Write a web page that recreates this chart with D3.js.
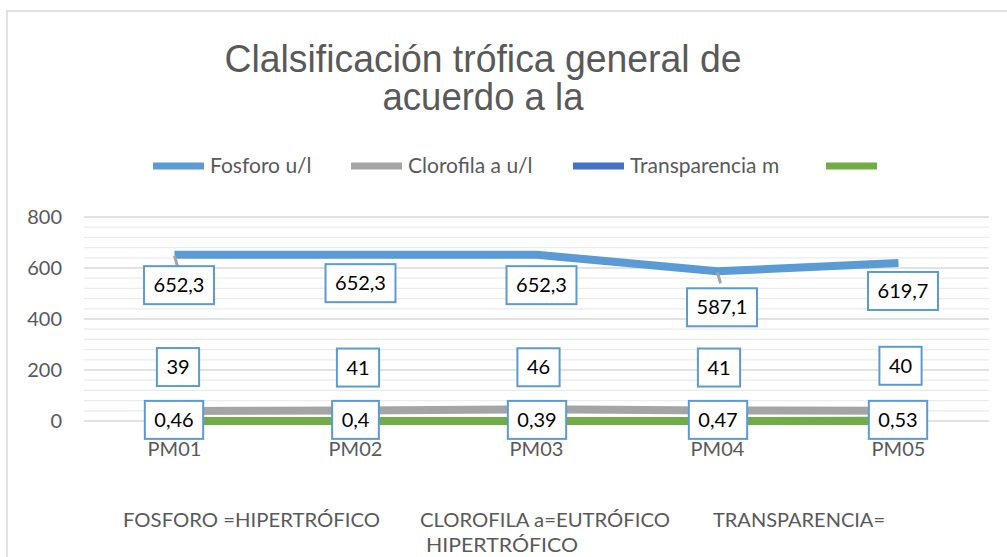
<!DOCTYPE html>
<html>
<head>
<meta charset="utf-8">
<script src="https://cdnjs.cloudflare.com/ajax/libs/d3/7.8.5/d3.min.js"></script>
<style>
  body { margin: 0; background: #fff; }
  svg { display: block; }
</style>
</head>
<body>
<svg id="chart" width="1007" height="557"></svg>
<script>
// datos
var estaciones = ["PM01", "PM02", "PM03", "PM04", "PM05"];
var fosforo = [652.3, 652.3, 652.3, 587.1, 619.7];
var clorofila = [39, 41, 46, 41, 40];
var transparencia = [0.46, 0.4, 0.39, 0.47, 0.53];
var serieVerde = [0, 0, 0, 0, 0];
var yTicks = [0, 200, 400, 600, 800];
var nombres = ["Fosforo u/l", "Clorofila a u/l", "Transparencia m", ""];
var colores = ["#5B9BD5", "#A5A5A5", "#4472C4", "#70AD47"];

var svg = d3.select("#chart"),
    width = +svg.attr("width"),
    height = +svg.attr("height");

var gris = "#595959";
var fuente = "Lato, 'Open Sans', sans-serif";

// marco del area del grafico
svg.append("path")
  .attr("d", "M7,557 L7,11 L1007,11")
  .attr("fill", "none")
  .attr("stroke", "#d9d9d9")
  .attr("stroke-width", 1.5);

// titulo
svg.append("text")
  .attr("x", 483).attr("y", 72)
  .attr("text-anchor", "middle")
  .attr("font-family", "'Liberation Sans', Arial, sans-serif")
  .attr("font-size", 38)
  .attr("fill", gris)
  .attr("textLength", 517).attr("lengthAdjust", "spacingAndGlyphs")
  .text("Clalsificación trófica general de");
svg.append("text")
  .attr("x", 483).attr("y", 110)
  .attr("text-anchor", "middle")
  .attr("font-family", "'Liberation Sans', Arial, sans-serif")
  .attr("font-size", 38)
  .attr("fill", gris)
  .attr("textLength", 201).attr("lengthAdjust", "spacingAndGlyphs")
  .text("acuerdo a la");

// leyenda
var legX = [153, 351, 573, 826];
var legend = svg.selectAll(".legend")
  .data(nombres)
  .enter().append("g")
  .attr("class", "legend")
  .attr("transform", function(d, i) { return "translate(" + legX[i] + ",166)"; });

legend.append("rect")
  .attr("x", 0).attr("y", -3.5)
  .attr("width", 51).attr("height", 7)
  .attr("fill", function(d, i) { return colores[i]; });

legend.append("text")
  .attr("x", 57).attr("y", 7)
  .attr("font-family", fuente)
  .attr("font-size", 21)
  .attr("fill", gris)
  .text(function(d) { return d; });

// escalas
var x = d3.scaleBand().domain(estaciones).range([84, 989]);
var y = d3.scaleLinear().domain([0, 800]).range([421, 217]);
function cx(d, i) { return x(estaciones[i]) + x.bandwidth() / 2; }

// lineas de cuadricula
var menores = d3.range(0, 801, 40).filter(function(v) { return yTicks.indexOf(v) < 0; });
svg.append("g").selectAll("line")
  .data(menores)
  .enter().append("line")
  .attr("x1", 84).attr("x2", 989)
  .attr("y1", function(d) { return y(d); })
  .attr("y2", function(d) { return y(d); })
  .attr("stroke", "#ebebeb")
  .attr("stroke-width", 1.3);

svg.append("g").selectAll("line")
  .data(yTicks)
  .enter().append("line")
  .attr("x1", 84).attr("x2", 989)
  .attr("y1", function(d) { return y(d); })
  .attr("y2", function(d) { return y(d); })
  .attr("stroke", "#d9d9d9")
  .attr("stroke-width", 1.6);

// eje y
var yAxis = svg.append("g")
  .attr("transform", "translate(62,0)")
  .call(d3.axisLeft(y).tickValues(yTicks).tickSize(0).tickPadding(0));
yAxis.select(".domain").remove();
yAxis.selectAll("text")
  .attr("font-family", fuente)
  .attr("font-size", 20)
  .attr("fill", gris);

// series
var line = d3.line()
  .x(function(d, i) { return cx(d, i); })
  .y(function(d) { return y(d); });

[fosforo, clorofila, transparencia, serieVerde].forEach(function(serie, k) {
  svg.append("path")
    .datum(serie)
    .attr("d", line)
    .attr("fill", "none")
    .attr("stroke", colores[k])
    .attr("stroke-width", 8)
    .attr("stroke-linejoin", "round");
});

// lineas guia de etiquetas (fosforo PM01 y PM04)
var conGuia = [0, 3];
svg.append("g").selectAll("line")
  .data(conGuia)
  .enter().append("line")
  .attr("x1", function(i) { return cx(null, i); })
  .attr("y1", function(i) { return y(fosforo[i]) + 1; })
  .attr("x2", function(i) { return cx(null, i) + 3; })
  .attr("y2", function(i) { return y(fosforo[i]) + 12; })
  .attr("stroke", "#A5A5A5")
  .attr("stroke-width", 3);

// etiquetas de datos
function fmt(v) { return String(v).replace(".", ","); }

function etiquetas(serie, dx, dy) {
  var g = svg.append("g").selectAll("g")
    .data(serie)
    .enter().append("g")
    .attr("transform", function(d, i) {
      return "translate(" + (cx(d, i) + dx[i]) + "," + (y(d) + dy[i]) + ")";
    });
  g.append("rect")
    .attr("fill", "#fff")
    .attr("stroke", "#5B9BD5")
    .attr("stroke-width", 2);
  var txt = g.append("text")
    .attr("text-anchor", "middle")
    .attr("dy", "0.36em")
    .attr("font-family", fuente)
    .attr("font-size", 20)
    .attr("fill", "#000")
    .text(function(d) { return fmt(d); });
  txt.each(function(d, i) {
    var w = this.getComputedTextLength() + 19;
    d3.select(this.parentNode).select("rect")
      .attr("x", -w / 2).attr("y", -19)
      .attr("width", w).attr("height", 38);
  });
}

etiquetas(fosforo, [4.5, 5, 5, 4.5, 4.5], [30.5, 28.5, 30.5, 36, 28]);
etiquetas(clorofila, [3.5, 2.5, 2, 1.5, 2], [-44, -43, -42, -43, -45]);
etiquetas(transparencia, [-0.5, 0, 0.5, 0.5, -0.5], [-1, -1, -1, -1, -1]);

// eje x (encima de las etiquetas)
var xAxis = svg.append("g")
  .attr("transform", "translate(0,442)")
  .call(d3.axisBottom(x).tickSize(0).tickPadding(0));
xAxis.select(".domain").remove();
xAxis.selectAll("text")
  .attr("font-family", fuente)
  .attr("font-size", 20)
  .attr("fill", gris);

// texto inferior
var notas = [
  { t: "FOSFORO =HIPERTRÓFICO", x: 123, y: 527, w: 257 },
  { t: "CLOROFILA a=EUTRÓFICO", x: 420, y: 527, w: 250 },
  { t: "TRANSPARENCIA=", x: 713, y: 527, w: 172 },
  { t: "HIPERTRÓFICO", x: 426, y: 552, w: 152 }
];
svg.append("g").selectAll("text")
  .data(notas)
  .enter().append("text")
  .attr("x", function(d) { return d.x; })
  .attr("y", function(d) { return d.y; })
  .attr("font-family", fuente)
  .attr("font-size", 20)
  .attr("fill", gris)
  .attr("textLength", function(d) { return d.w; })
  .attr("lengthAdjust", "spacingAndGlyphs")
  .text(function(d) { return d.t; });
</script>
</body>
</html>
